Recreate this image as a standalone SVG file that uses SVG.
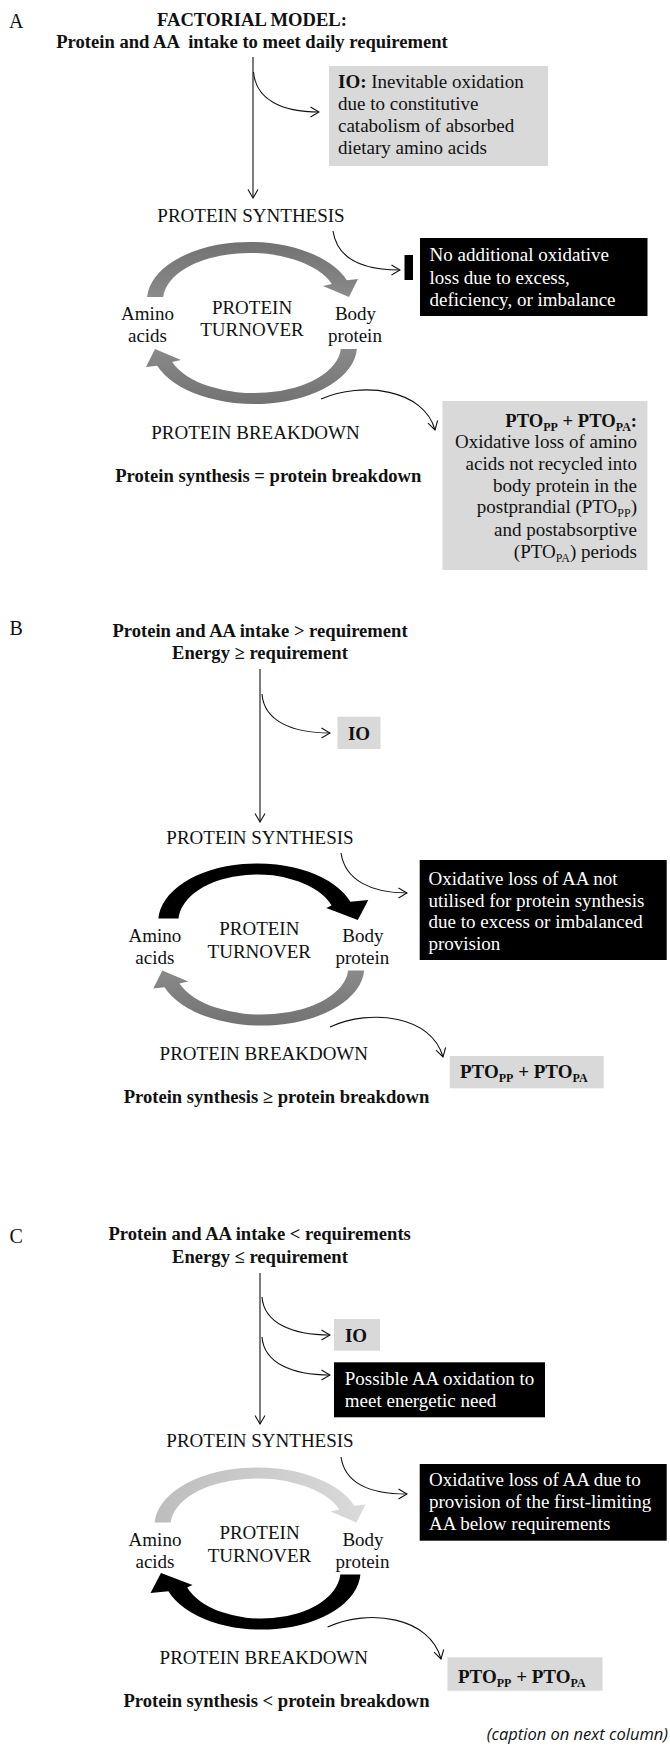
<svg xmlns="http://www.w3.org/2000/svg" width="670" height="1758" viewBox="0 0 670 1758">
<style>
text{font-family:"Liberation Serif","Times New Roman",serif;fill:#111}
.b{font-weight:bold;font-size:18.6px}
.r{font-size:19px}
.c{text-anchor:middle}
.e{text-anchor:end}
.w{fill:#fff}
.lab{font-size:20px}
.gbox{fill:#d9d9d9}
.kbox{fill:#000}
.con{fill:none;stroke:#111;stroke-width:1.1}
.sub{font-size:12px}
.cap{font-family:"Open Sans","Noto Sans","Liberation Sans",sans-serif;font-style:italic;font-size:16.5px}
</style>
<defs>
<marker id="ah" markerUnits="userSpaceOnUse" markerWidth="11" markerHeight="12" viewBox="0 0 11 12" refX="10" refY="6" orient="auto">
<path d="M1.5,1 L10,6 L1.5,11" fill="none" stroke="#111" stroke-width="1.1"/>
</marker>
<linearGradient id="gG" x1="0" y1="0" x2="0" y2="1">
<stop offset="0" stop-color="#727272"/><stop offset="1" stop-color="#8a8a8a"/>
</linearGradient>
<linearGradient id="gL" x1="0" y1="0" x2="1" y2="0">
<stop offset="0" stop-color="#bdbdbd"/><stop offset="1" stop-color="#dadada"/>
</linearGradient>
<path id="arcN" d="M147.1,297 A103,58 0 0 1 346.8,280.2 L358,279 L349,297 L323,286 L331.8,283.9 A87,47 0 0 0 163.2,297 Z"/>
<path id="arcT" d="M151.1,297 A99,58 0 0 1 343.1,280.2 L361,278.5 L350.5,298.5 L319,286.5 L324.3,283.9 A79,47 0 0 0 171.2,297 Z"/>
</defs>

<!-- PANEL A -->
<g id="panelA">
<text class="lab" x="9" y="28">A</text>
<g id="A-header">
<text class="b c" x="252" y="26">FACTORIAL MODEL:</text>
<text class="b c" x="252" y="48" xml:space="preserve">Protein and AA  intake to meet daily requirement</text>
</g>
<g id="A-io">
<rect class="gbox" x="329" y="66" width="219" height="100"/>
<text class="r" x="338" y="88"><tspan font-weight="bold">IO:</tspan> Inevitable oxidation</text>
<text class="r" x="338" y="110">due to constitutive</text>
<text class="r" x="338" y="132">catabolism of absorbed</text>
<text class="r" x="338" y="154">dietary amino acids</text>
</g>
<text id="A-synth" class="r c" x="251" y="222">PROTEIN SYNTHESIS</text>
<g id="A-noloss">
<rect class="kbox" x="404.5" y="255" width="8.5" height="25"/>
<rect class="kbox" x="420" y="238" width="227.5" height="78"/>
<text class="r w" x="429.5" y="261">No additional oxidative</text>
<text class="r w" x="429.5" y="283.5">loss due to excess,</text>
<text class="r w" x="429.5" y="306">deficiency, or imbalance</text>
</g>
<g id="A-cycle">
<use href="#arcN" fill="url(#gG)"/>
<use href="#arcN" fill="url(#gG)" transform="rotate(180 252 323)"/>
<text class="r c" x="147.5" y="320">Amino</text>
<text class="r c" x="147.5" y="342">acids</text>
<text class="r c" x="252" y="313.5">PROTEIN</text>
<text class="r c" x="252" y="336">TURNOVER</text>
<text class="r c" x="355.5" y="320">Body</text>
<text class="r c" x="355" y="342">protein</text>
</g>
<text id="A-break" class="r c" x="255.5" y="438.5">PROTEIN BREAKDOWN</text>
<text id="A-eq" class="b c" x="268.3" y="481.7">Protein synthesis = protein breakdown</text>
<g id="A-pto">
<rect class="gbox" x="442.4" y="401" width="205" height="169"/>
<text class="b e" x="637" y="426.7">PTO<tspan class="sub" dy="4">PP</tspan><tspan dy="-4"> + PTO</tspan><tspan class="sub" dy="4">PA</tspan><tspan dy="-4">:</tspan></text>
<text class="r e" x="637" y="448.3">Oxidative loss of amino</text>
<text class="r e" x="637" y="470">acids not recycled into</text>
<text class="r e" x="637" y="491.7">body protein in the</text>
<text class="r e" x="637" y="513.3">postprandial (PTO<tspan class="sub" dy="4">PP</tspan><tspan dy="-4">)</tspan></text>
<text class="r e" x="637" y="536">and postabsorptive</text>
<text class="r e" x="637" y="558.3">(PTO<tspan class="sub" dy="4">PA</tspan><tspan dy="-4">) periods</tspan></text>
</g>
</g>

<!-- PANEL B -->
<g id="panelB">
<text class="lab" x="9.4" y="635">B</text>
<g id="B-header">
<text class="b c" x="260" y="636.7">Protein and AA intake &gt; requirement</text>
<text class="b c" x="260" y="659.3">Energy ≥ requirement</text>
</g>
<g id="B-io">
<rect class="gbox" x="337.5" y="716.7" width="43" height="32.3"/>
<text class="b c" x="359" y="740" style="font-size:19px">IO</text>
</g>
<text id="B-synth" class="r c" x="260" y="843.5">PROTEIN SYNTHESIS</text>
<g id="B-loss">
<rect class="kbox" x="419.7" y="860" width="247" height="100"/>
<text class="r w" x="428.5" y="885">Oxidative loss of AA not</text>
<text class="r w" x="428.5" y="906.7">utilised for protein synthesis</text>
<text class="r w" x="428.5" y="928">due to excess or imbalanced</text>
<text class="r w" x="428.5" y="950">provision</text>
</g>
<g id="B-cycle" transform="translate(7.3 621.5)">
<use href="#arcT" fill="#000"/>
<use href="#arcN" fill="url(#gG)" transform="rotate(180 252 323)"/>
<text class="r c" x="147.5" y="320">Amino</text>
<text class="r c" x="147.5" y="342">acids</text>
<text class="r c" x="252" y="313.5">PROTEIN</text>
<text class="r c" x="252" y="336">TURNOVER</text>
<text class="r c" x="355.5" y="320">Body</text>
<text class="r c" x="355" y="342">protein</text>
</g>
<text id="B-break" class="r c" x="263.8" y="1060">PROTEIN BREAKDOWN</text>
<g id="B-pto">
<rect class="gbox" x="449.7" y="1056" width="154" height="32.3"/>
<text class="b" x="460" y="1078" style="font-size:19px">PTO<tspan class="sub" dy="4">PP</tspan><tspan dy="-4"> + PTO</tspan><tspan class="sub" dy="4">PA</tspan></text>
</g>
<text id="B-eq" class="b c" x="276.5" y="1103.3">Protein synthesis ≥ protein breakdown</text>
</g>

<!-- PANEL C -->
<g id="panelC">
<text class="lab" x="9.4" y="1242.7">C</text>
<g id="C-header">
<text class="b c" x="259.6" y="1240">Protein and AA intake &lt; requirements</text>
<text class="b c" x="260" y="1262.7">Energy ≤ requirement</text>
</g>
<g id="C-io">
<rect class="gbox" x="334" y="1319" width="46" height="31.7"/>
<text class="b c" x="356" y="1341.7" style="font-size:19px">IO</text>
</g>
<g id="C-energy">
<rect class="kbox" x="334" y="1362.3" width="211" height="55"/>
<text class="r w" x="344.8" y="1385">Possible AA oxidation to</text>
<text class="r w" x="344.8" y="1406.7">meet energetic need</text>
</g>
<text id="C-synth" class="r c" x="260" y="1446.7">PROTEIN SYNTHESIS</text>
<g id="C-loss">
<rect class="kbox" x="419.7" y="1464" width="247" height="76.7"/>
<text class="r w" x="429" y="1486">Oxidative loss of AA due to</text>
<text class="r w" x="429" y="1507.5">provision of the first-limiting</text>
<text class="r w" x="429" y="1530">AA below requirements</text>
</g>
<g id="C-cycle" transform="translate(7.5 1225.5)">
<use href="#arcN" fill="url(#gL)"/>
<use href="#arcT" fill="#000" transform="rotate(180 252 323)"/>
<text class="r c" x="147.5" y="320">Amino</text>
<text class="r c" x="147.5" y="342">acids</text>
<text class="r c" x="252" y="313.5">PROTEIN</text>
<text class="r c" x="252" y="336">TURNOVER</text>
<text class="r c" x="355.5" y="320">Body</text>
<text class="r c" x="355" y="342">protein</text>
</g>
<text id="C-break" class="r c" x="263.8" y="1663.5">PROTEIN BREAKDOWN</text>
<g id="C-pto">
<rect class="gbox" x="447.5" y="1657.3" width="155" height="33.4"/>
<text class="b" x="458" y="1682.7" style="font-size:19px">PTO<tspan class="sub" dy="4">PP</tspan><tspan dy="-4"> + PTO</tspan><tspan class="sub" dy="4">PA</tspan></text>
</g>
<text id="C-eq" class="b c" x="276.5" y="1706.7">Protein synthesis &lt; protein breakdown</text>
<text class="cap e" x="668" y="1740">(caption on next column)</text>
</g>

<!-- CONNECTORS -->
<g id="connectors" class="con">
<path class="con" d="M253,57 L253,198" marker-end="url(#ah)"/>
<path class="con" d="M253.5,72 C256,100 282,112 319,112" marker-end="url(#ah)"/>
<path class="con" d="M333,231 C337,258 362,270 400,270" marker-end="url(#ah)"/>
<path class="con" d="M321,399 C362,381 424,389 435,430" marker-end="url(#ah)"/>

<path class="con" d="M260,669 L260,822" marker-end="url(#ah)"/>
<path class="con" d="M262,694 C264,721 292,733 330,733" marker-end="url(#ah)"/>
<path class="con" d="M341,853 C345,880 371,893 407,893" marker-end="url(#ah)"/>
<path class="con" d="M330,1027 C371,1008 432,1016 443,1057" marker-end="url(#ah)"/>

<path class="con" d="M260,1273 L260,1424" marker-end="url(#ah)"/>
<path class="con" d="M262,1297 C264,1323 292,1335 330,1335" marker-end="url(#ah)"/>
<path class="con" d="M262,1337 C264,1363 292,1375 330,1375" marker-end="url(#ah)"/>
<path class="con" d="M341,1457 C345,1484 371,1494 407,1494" marker-end="url(#ah)"/>
<path class="con" d="M327.6,1627 C369,1608 430,1617 441,1659" marker-end="url(#ah)"/>
</g>
</svg>
